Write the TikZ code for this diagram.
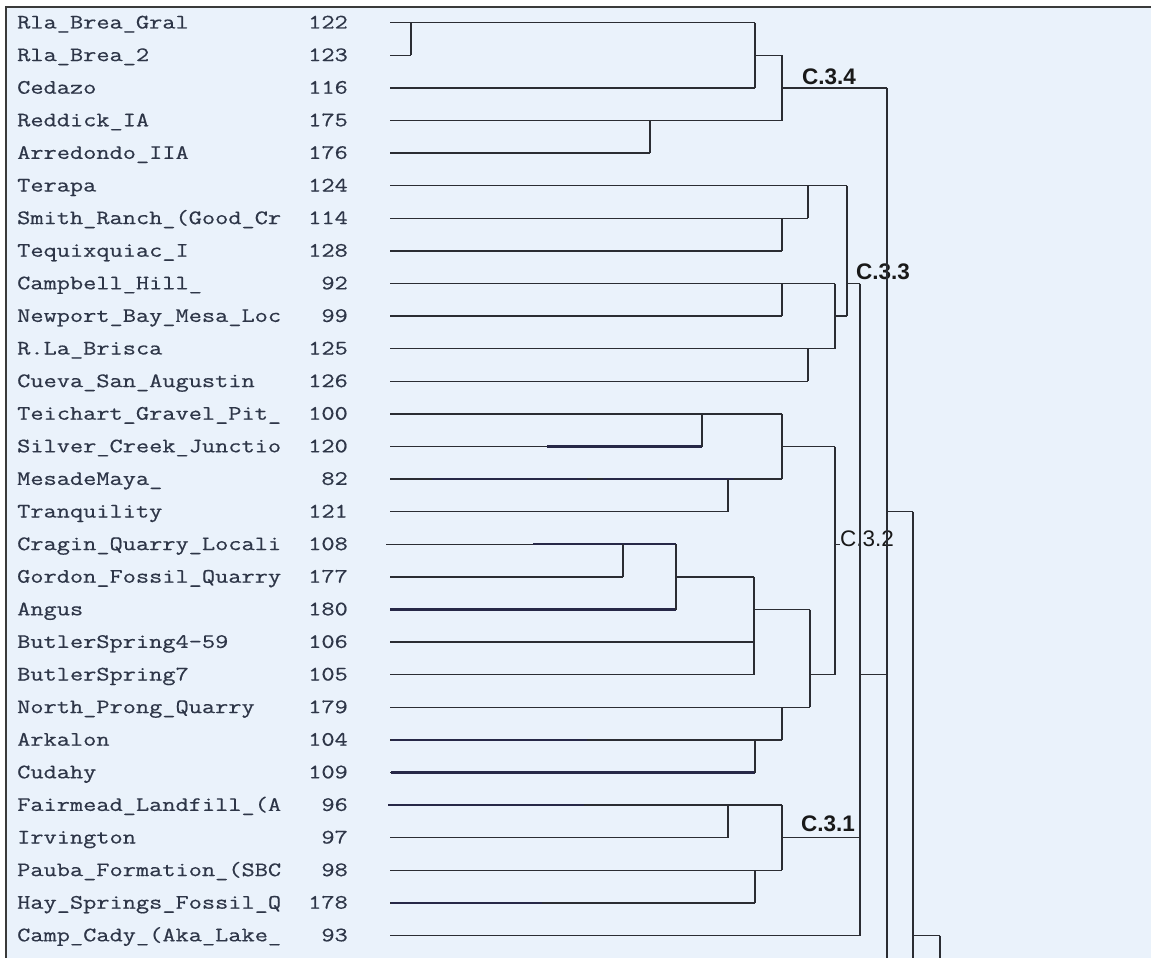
\documentclass[tikz,border=0pt]{standalone}
\usepackage{fontspec}
\newfontfamily\monof{Latin Modern Mono}[FakeStretch=1.25,FakeBold=0.5]
\newfontfamily\labf{Liberation Sans}
\definecolor{bg}{HTML}{EAF2FB}
\definecolor{txt}{HTML}{2E3648}
\definecolor{ln}{HTML}{2B2D33}
\definecolor{frame}{HTML}{3A3A3A}
\tikzset{
  leafname/.style={anchor=base west,inner sep=0pt,text=txt,font=\monof\fontsize{20.5}{24}\selectfont},
  leafnum/.style={anchor=base east,inner sep=0pt,text=txt,font=\monof\fontsize{20.5}{24}\selectfont},
  branch/.style={draw=ln,line width=1.4pt},
  heavy/.style={draw=ln!90!blue,line width=2.3pt},
  clabel/.style={anchor=base west,inner sep=0pt,text=black!90,font=\labf\bfseries\fontsize{22.5}{24}\selectfont},
  clabelreg/.style={anchor=base west,inner sep=0pt,text=black!90,font=\labf\fontsize{22.5}{24}\selectfont}
}
\begin{document}
\begin{tikzpicture}[x=1pt,y=-1pt]
\useasboundingbox (0,0) rectangle (1151,958);
\fill[white] (0,0) rectangle (1151,958);
\fill[bg] (6,7) rectangle (1151,958);
\draw[frame,line width=2pt] (6,958) -- (6,7) -- (1151,7);
\coordinate (rbot) at (0,958);
% leaves: index / name / number / end x
\foreach \i/\nm/\num/\ex in {
 1/Rla\_Brea\_Gral/122/755,
 2/Rla\_Brea\_2/123/411,
 3/Cedazo/116/755,
 4/Reddick\_IA/175/782,
 5/Arredondo\_IIA/176/650,
 6/Terapa/124/847,
 7/Smith\_Ranch\_(Good\_Cr/114/808,
 8/Tequixquiac\_I/128/782,
 9/Campbell\_Hill\_/92/835,
 10/Newport\_Bay\_Mesa\_Loc/99/782,
 11/R.La\_Brisca/125/835,
 12/Cueva\_San\_Augustin/126/808,
 13/Teichart\_Gravel\_Pit\_/100/782,
 14/Silver\_Creek\_Junctio/120/702,
 15/MesadeMaya\_/82/782,
 16/Tranquility/121/728,
 17/Cragin\_Quarry\_Locali/108/676,
 18/Gordon\_Fossil\_Quarry/177/623,
 19/Angus/180/676,
 20/ButlerSpring4-59/106/754,
 21/ButlerSpring7/105/754,
 22/North\_Prong\_Quarry/179/810,
 23/Arkalon/104/782,
 24/Cudahy/109/755,
 25/Fairmead\_Landfill\_(A/96/782,
 26/Irvington/97/728,
 27/Pauba\_Formation\_(SBC/98/782,
 28/Hay\_Springs\_Fossil\_Q/178/755,
 29/Camp\_Cady\_(Aka\_Lake\_/93/860}{
  \pgfmathsetmacro\yy{22.7+32.6*(\i-1)}
  \coordinate (r\i) at (0,\yy);
  \node[leafname] (name\i) at (17,\yy+5.8) {\nm};
  \node[leafnum] (num\i) at (348,\yy+5.8) {\num};
  \draw[branch] (390,\yy) -- (\ex,\yy);
}
\draw[branch] (386,0 |- r17) -- (390,0 |- r17);
% heavier traced segments
\foreach \r/\a/\b in {14/547/702, 15/432/587, 15/603/734, 17/533/676, 19/390/676,
  23/391/587, 24/391/755, 25/388/584, 28/391/542}{
  \draw[heavy] (\a,0 |- r\r) -- (\b,0 |- r\r);
}
% horizontal joins: row / from x / to x
\foreach \r/\a/\b in {2/755/782, 3/782/887, 10/835/847, 9/847/860, 14/782/835,
  17/835/860, 18/676/754, 19/754/810, 21/810/835, 21/860/887, 26/782/860,
  16/887/913, 29/913/940}{
  \draw[branch] (\a,0 |- r\r) -- (\b,0 |- r\r);
}
% vertical joins: x / from row / to row
\foreach \x/\a/\b in {411/1/2, 755/1/3, 782/2/4, 650/4/5, 808/6/7,
  782/7/8, 847/6/10, 782/9/10, 808/11/12, 835/9/11, 702/13/14, 728/15/16,
  782/13/15, 835/14/21, 623/17/18, 676/17/19, 754/18/21, 810/19/22, 755/23/24,
  782/22/23, 728/25/26, 755/27/28, 782/25/27, 913/16/bot, 940/29/bot}{
  \draw[branch] (\x,0 |- r\a) -- (\x,0 |- r\b);
}
% cluster labels
\node[clabel] (c34) at (802,84.5) {C.3.4};
\node[clabel] (c33) at (856,279) {C.3.3};
\node[clabelreg,fill=bg] (c32) at (840,546) {C.3.2};
\node[clabel] (c31) at (801,831) {C.3.1};
\draw[branch,line width=1.8pt] (860,0 |- r9) -- (860,0 |- r29);
\draw[branch] (887,0 |- r3) -- (887,0 |- rbot);
\end{tikzpicture}
\end{document}
